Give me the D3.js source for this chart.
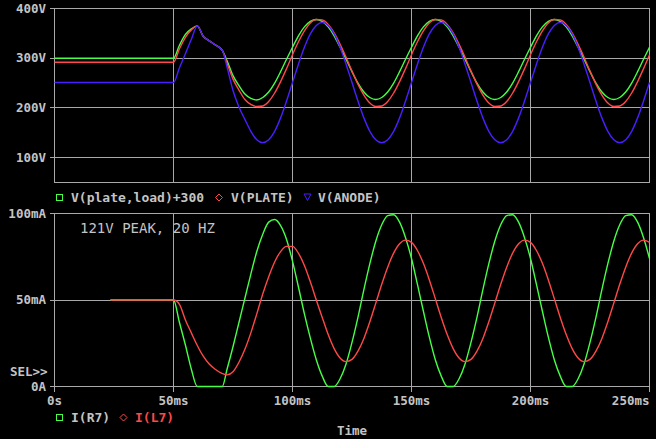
<!DOCTYPE html>
<html><head><meta charset="utf-8">
<script src="https://cdn.jsdelivr.net/npm/d3@7"></script>
<style>
html,body{margin:0;padding:0;background:#000;}
svg{display:block;}
</style></head><body>
<svg id="c" width="656" height="439"></svg>
<script>
// ---------- data ----------
const timeMs = [0,23.5,50,52.5,55,57.5,60,62.5,65,67.5,70.5,
  72.5,75,77.5,80,82.5,85,87.5,
  90,92.5,95,97.5,100,102.5,105,107.5,110,112.5,115,117.5,120,122.5,125,127.5,130,132.5,135,137.5,
  140,142.5,145,147.5,150,152.5,155,157.5,160,162.5,165,167.5,170,172.5,175,177.5,180,182.5,185,187.5,
  190,192.5,195,197.5,200,202.5,205,207.5,210,212.5,215,217.5,220,222.5,225,227.5,230,232.5,235,237.5,
  240,242.5,245,247.5,250];

const vPlateLoad = [300,300,300,326,348,359,365,344,335,327,316,
  295,265,245,228,219,216,221,
  232,250,273,298,322,345,363,374,378,374,363,345,322,298,273,250,232,221,217,221,
  232,250,273,298,322,345,363,374,378,374,363,345,322,298,273,250,232,221,217,221,
  232,250,273,298,322,345,363,374,378,374,363,345,322,298,273,250,232,221,217,221,
  232,250,273,298,322];

const vPlate = [292,292,292,319,342,357,365,344,335,327,316,
  290,258,236,217,207,203,204,
  213,230,253,279,307,333,355,371,378,377,368,351,328,302,274,248,226,210,203,204,
  213,230,253,279,307,333,355,371,378,377,368,351,328,302,274,248,226,210,203,204,
  213,230,253,279,307,333,355,371,378,377,368,351,328,302,274,248,226,210,203,204,
  213,230,253,279,307];

const vAnode = [251,251,251,281,309,338,365,344,335,327,316,
  282,235,202,177,153,136,130,
  136,153,180,214,251,288,322,349,366,372,366,349,322,288,251,214,180,153,136,130,
  136,153,180,214,251,288,322,349,366,372,366,349,322,288,251,214,180,153,136,130,
  136,153,180,214,251,288,322,349,366,372,366,349,322,288,251,214,180,153,136,130,
  136,153,180,214,251];

const iR7 = [null,50,50,37,24,10,0,0,0,0,0,
  10,23,37,51,65,78,88,
  95,96.5,93,85,72.5,57.5,42,28,15.5,6,0,0,4.5,13,25.5,40,56,71,84,93.5,
  98.8,99.3,95,86,74,59,43.5,28.5,15.5,6,0,0,4.5,13,25.5,40,56,71,84,93.5,
  98.8,99.3,95,86,74,59,43.5,28.5,15.5,6,0,0,4.5,13,25.5,40,56,71,84,93.5,
  98.8,99.3,95,86,74];

const iL7 = [null,50,50,47.5,38.5,31,23.7,17.5,13,10,7.5,
  6.7,8.5,14,21.5,31,42,53.5,
  63.5,72,78,81,81,77,70,60.5,50,39.9,30,21.9,16.5,14.4,15.7,20.4,27.8,37.4,48.2,59.1,
  69,77.1,82.5,84.6,83.3,78.6,71.2,61.6,50.8,39.9,30,21.9,16.5,14.4,15.7,20.4,27.8,37.4,48.2,59.1,
  69,77.1,82.5,84.6,83.3,78.6,71.2,61.6,50.8,39.9,30,21.9,16.5,14.4,15.7,20.4,27.8,37.4,48.2,59.1,
  69,77.1,82.5,84.6,83.3];

const voltTicks = [100,200,300,400];
const voltTickLabels = ["100V","200V","300V","400V"];
const currentTicks = [0,50,100];
const currentTickLabels = ["0A","50mA","100mA"];
const timeTicks = [0,50,100,150,200,250];
const timeTickLabels = ["0s","50ms","100ms","150ms","200ms","250ms"];

const topSeriesNames = ["V(plate,load)+300","V(PLATE)","V(ANODE)"];
const bottomSeriesNames = ["I(R7)","I(L7)"];
const annotationText = "121V PEAK, 20 HZ";

// ---------- styling ----------
const GREEN = "#46ff46", RED = "#ff4848", BLUE = "#4a1eff";
const GRID = "#a8a8a8", TXT = "#c4c4c4";
const MONO = "'DejaVu Sans Mono', 'Liberation Mono', monospace";

const svg = d3.select("#c");
svg.append("rect").attr("width",656).attr("height",439).attr("fill","#000");

const x = d3.scaleLinear().domain([0,250]).range([54.5,649.5]);
const yV = d3.scaleLinear().domain([50,400]).range([182.5,8.5]);
const yI = d3.scaleLinear().domain([0,100]).range([386.5,213.5]);

const px = v => Math.round(v - 0.5) + 0.5;

function grid(yScale, yTicks, yBottom){
  const g = svg.append("g").attr("stroke",GRID).attr("stroke-width",1).attr("shape-rendering","crispEdges");
  const y0 = px(yScale(yBottom)), y1 = px(yScale(yScale.domain()[1]));
  timeTicks.forEach(t => g.append("line").attr("x1",px(x(t))).attr("x2",px(x(t))).attr("y1",y1).attr("y2",y0));
  [yBottom, ...yTicks].forEach(v => g.append("line").attr("x1",px(x(0))).attr("x2",px(x(250))).attr("y1",px(yScale(v))).attr("y2",px(yScale(v))));
}
grid(yV, voltTicks, 50);
grid(yI, currentTicks, 0);

function styleAxis(g){
  g.select(".domain").remove();
  g.selectAll(".tick line").attr("stroke",GRID).attr("shape-rendering","crispEdges");
  g.selectAll(".tick text").attr("fill",TXT).attr("font-family",MONO).attr("font-weight","bold").attr("font-size","12.5px");
}

svg.append("g").attr("transform","translate(54.5,0)")
  .call(d3.axisLeft(yV).tickValues(voltTicks).tickFormat((d,i)=>voltTickLabels[i]).tickSize(5).tickPadding(3.5).offset(0))
  .call(styleAxis);
svg.append("g").attr("transform","translate(54.5,0)")
  .call(d3.axisLeft(yI).tickValues(currentTicks).tickFormat((d,i)=>currentTickLabels[i]).tickSize(5).tickPadding(3.5).offset(0))
  .call(styleAxis);
const xg = svg.append("g").attr("transform","translate(0,386.5)")
  .call(d3.axisBottom(x).tickValues(timeTicks).tickFormat((d,i)=>timeTickLabels[i]).tickSize(5).tickPadding(4.5).offset(0))
  .call(styleAxis);
xg.selectAll(".tick text").filter(d => d === 250).attr("text-anchor","end").attr("x",0);

// ---------- traces ----------
function trace(values, yScale, color){
  const pts = timeMs.map((t,i)=>({t, v: values[i]}));
  const line = d3.line().defined(d => d.v != null)
    .x(d => x(d.t)).y(d => yScale(d.v)).curve(d3.curveMonotoneX);
  svg.append("path").datum(pts).attr("d",line).attr("fill","none")
    .attr("stroke",color).attr("stroke-width",1.4).attr("stroke-linejoin","round");
}
trace(vPlateLoad, yV, GREEN);
trace(vPlate, yV, RED);
trace(vAnode, yV, BLUE);
trace(iR7, yI, GREEN);
trace(iL7, yI, RED);

// ---------- legends & text ----------
function txt(s, xx, yy, opts={}){
  return svg.append("text").attr("x",xx).attr("y",yy).text(s)
    .attr("fill",opts.fill||TXT).attr("font-family",MONO)
    .attr("font-weight",opts.weight||"bold").attr("font-size",opts.size||"13px")
    .attr("text-anchor",opts.anchor||"start");
}
function square(cx, cy, color){
  svg.append("rect").attr("x",cx-3).attr("y",cy-3).attr("width",6).attr("height",6)
    .attr("fill","none").attr("stroke",color).attr("stroke-width",1).attr("shape-rendering","crispEdges");
}
function diamond(cx, cy, color){
  svg.append("path").attr("d",`M${cx},${cy-3.5}L${cx+3.5},${cy}L${cx},${cy+3.5}L${cx-3.5},${cy}Z`)
    .attr("fill","none").attr("stroke",color).attr("stroke-width",1);
}
function triangle(cx, cy, color){
  svg.append("path").attr("d",`M${cx-3.5},${cy-3}L${cx+3.5},${cy-3}L${cx},${cy+3.5}Z`)
    .attr("fill","none").attr("stroke",color).attr("stroke-width",1);
}

// top legend
square(59.5, 197.5, GREEN); txt(topSeriesNames[0], 71, 202);
diamond(219, 197.5, RED);   txt(topSeriesNames[1], 231, 202);
triangle(307.5, 197, BLUE); txt(topSeriesNames[2], 318, 202);

// bottom legend
square(59.5, 417.5, GREEN); txt(bottomSeriesNames[0], 71, 422);
diamond(123.5, 417.5, RED); txt(bottomSeriesNames[1], 135, 422, {fill: RED});

txt(annotationText, 80, 233, {weight:"normal", size:"14px"});
txt("SEL>>", 10, 376, {size:"12.5px"});
txt("Time", 352, 435, {size:"12.5px", anchor:"middle"});
</script>
</body></html>
